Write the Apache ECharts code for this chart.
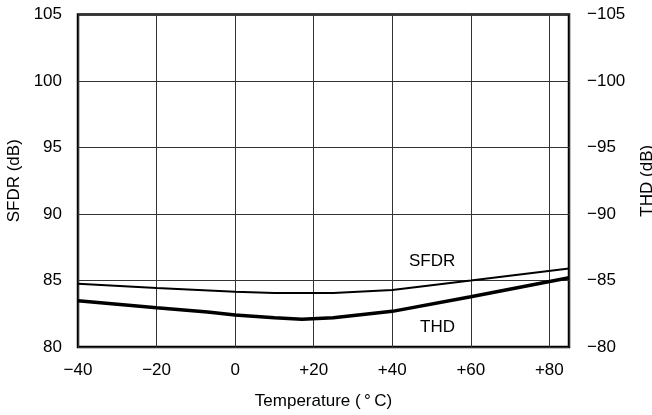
<!DOCTYPE html>
<html><head><meta charset="utf-8">
<script src="https://cdn.jsdelivr.net/npm/echarts@6/dist/echarts.min.js"></script>
<style>html,body{margin:0;padding:0;background:#fff}#c{width:652px;height:415px}</style>
</head><body><div id="c"></div>
<script>
var xTicks = [-40, -20, 0, 20, 40, 60, 80];
var sfdrTemp = [-40, -20, 0, 10, 25, 40, 60, 85];
var sfdrVals = [84.76, 84.44, 84.16, 84.06, 84.06, 84.29, 85.0, 85.9];
var thdTemp = [-40, -20, -7, 0, 10, 17, 25, 40, 60, 85];
var thdVals = [-83.48, -82.95, -82.63, -82.41, -82.2, -82.08, -82.2, -82.68, -83.78, -85.21];

var font = 'Liberation Sans, Arial, sans-serif';
var chart = echarts.init(document.getElementById('c'));
function pair(xs, ys){ return xs.map(function(x,i){ return [x, ys[i]]; }); }
chart.setOption({
  animation: false,
  grid: {left: 78, right: 83, top: 14.5, bottom: 68, outerBoundsMode: 'none', containLabel: false,
    show: true, borderColor: '#000', borderWidth: 2.5, backgroundColor: 'transparent'},
  xAxis: {
    type: 'value', min: -40, max: 85, interval: 20,
    name: 'Temperature (\u2009°\u2009C)', nameLocation: 'middle', nameGap: 46,
    nameTextStyle: {fontFamily: font, fontSize: 17, color: '#000'},
    axisLine: {show: false}, axisTick: {show: false},
    axisLabel: {fontFamily: font, fontSize: 17, color: '#000', margin: 15,
      formatter: function(v){ if (xTicks.indexOf(v) < 0) return ''; return v > 0 ? '+' + v : (v < 0 ? '\u2212' + (-v) : '0'); }},
    splitLine: {show: true, lineStyle: {color: '#333', width: 1}}
  },
  yAxis: [{
    type: 'value', min: 80, max: 105, interval: 5,
    name: 'SFDR (dB)', nameLocation: 'middle', nameGap: 54, nameRotate: 90,
    nameTextStyle: {fontFamily: font, fontSize: 17, color: '#000'},
    axisLine: {show: false}, axisTick: {show: false},
    axisLabel: {fontFamily: font, fontSize: 17, color: '#000', margin: 16},
    splitLine: {show: true, lineStyle: {color: '#333', width: 1}}
  }, {
    type: 'value', min: -105, max: -80, interval: 5, inverse: true, position: 'right',
    name: 'THD (dB)', nameLocation: 'middle', nameGap: 70, nameRotate: 90,
    nameTextStyle: {fontFamily: font, fontSize: 17, color: '#000'},
    axisLine: {show: false}, axisTick: {show: false},
    axisLabel: {fontFamily: font, fontSize: 17, color: '#000', margin: 18,
      formatter: function(v){ return String(v).replace('-', '\u2212'); }},
    splitLine: {show: false}
  }],
  series: [{
    type: 'line', yAxisIndex: 0, data: pair(sfdrTemp, sfdrVals), symbol: 'none',
    lineStyle: {color: '#000', width: 2}
  }, {
    type: 'line', yAxisIndex: 1, data: pair(thdTemp, thdVals), symbol: 'none',
    lineStyle: {color: '#000', width: 3.5}
  }],
  graphic: [
    {type: 'text', left: 409, top: 253, style: {text: 'SFDR', font: '17px ' + font, fill: '#000'}},
    {type: 'text', left: 420, top: 319, style: {text: 'THD', font: '17px ' + font, fill: '#000'}}
  ]
});
</script></body></html>
